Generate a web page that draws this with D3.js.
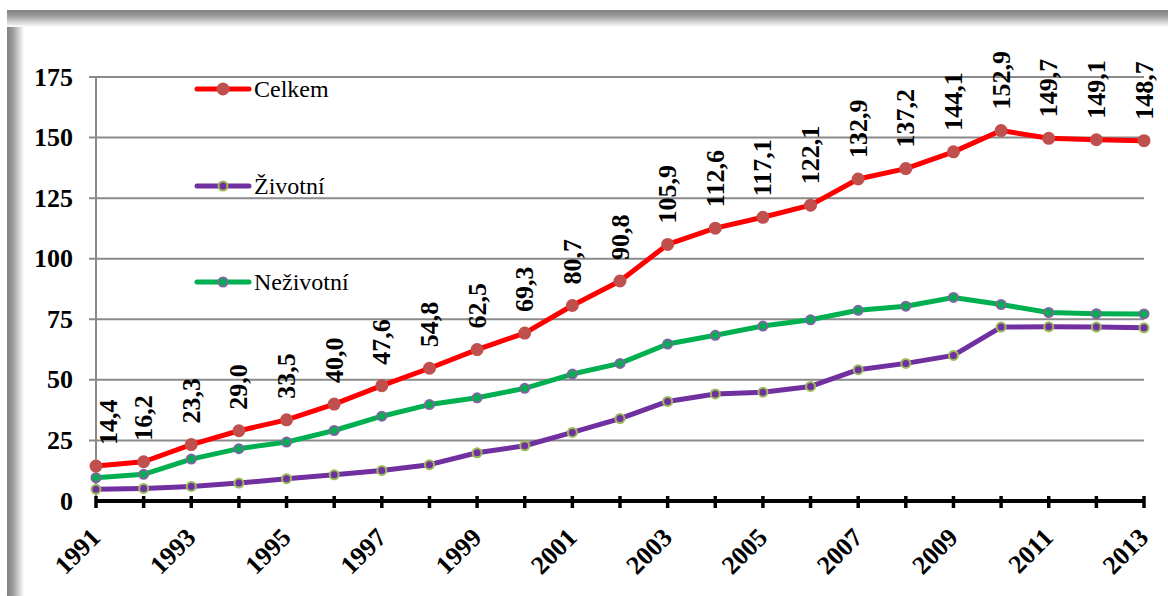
<!DOCTYPE html>
<html>
<head>
<meta charset="utf-8">
<script src="https://cdn.jsdelivr.net/npm/d3@7"></script>
<style>
  html, body { margin: 0; padding: 0; background: #ffffff; }
  svg { display: block; }
  svg text { font-family: "Liberation Serif", "Times New Roman", serif; }
</style>
</head>
<body>
<svg id="chart" width="1168" height="596"></svg>
<script>
// Years on the x axis
const years = [1991,1992,1993,1994,1995,1996,1997,1998,1999,2000,2001,2002,2003,2004,2005,2006,2007,2008,2009,2010,2011,2012,2013];
// Labelled years (every second one)
const yearLabels = [1991,1993,1995,1997,1999,2001,2003,2005,2007,2009,2011,2013];
// Y tick values
const yTicks = [0,25,50,75,100,125,150,175];

// Series values
const celkem    = [14.4,16.2,23.3,29.0,33.5,40.0,47.6,54.8,62.5,69.3,80.7,90.8,105.9,112.6,117.1,122.1,132.9,137.2,144.1,152.9,149.7,149.1,148.7];
const zivotni   = [4.8,5.2,6.0,7.4,9.2,10.8,12.6,15.0,19.9,22.8,28.3,34.0,41.1,44.2,44.9,47.3,54.2,56.8,60.1,71.8,71.9,71.8,71.5];
const nezivotni = [9.6,11.0,17.3,21.6,24.3,29.1,35.0,39.8,42.6,46.5,52.4,56.8,64.8,68.4,72.2,74.8,78.7,80.4,84.0,81.1,77.8,77.3,77.2];

const seriesNames = ["Celkem", "Životní", "Neživotní"];

const svg = d3.select("#chart");
const W = 1168, H = 596;

// Frame with soft inner shadow along the top and left edges
const defs = svg.append("defs");
const gTop = defs.append("linearGradient").attr("id", "shadeTop")
  .attr("x1", 0).attr("y1", 0).attr("x2", 0).attr("y2", 1);
gTop.append("stop").attr("offset", "0").attr("stop-color", "#808080");
gTop.append("stop").attr("offset", "0.35").attr("stop-color", "#9c9c9c");
gTop.append("stop").attr("offset", "1").attr("stop-color", "#ffffff");
const gLeft = defs.append("linearGradient").attr("id", "shadeLeft")
  .attr("x1", 0).attr("y1", 0).attr("x2", 1).attr("y2", 0);
gLeft.append("stop").attr("offset", "0").attr("stop-color", "#808080");
gLeft.append("stop").attr("offset", "0.35").attr("stop-color", "#9c9c9c");
gLeft.append("stop").attr("offset", "1").attr("stop-color", "#ffffff");

svg.append("rect").attr("x", 7).attr("y", 10).attr("width", 17).attr("height", H - 10)
  .attr("fill", "url(#shadeLeft)");
svg.append("rect").attr("x", 7).attr("y", 10).attr("width", W - 7).attr("height", 17)
  .attr("fill", "url(#shadeTop)");

// Scales
const x = d3.scalePoint().domain(years).range([96, 1144]);
const y = d3.scaleLinear().domain([0, 175]).range([501, 77]);

// Horizontal gridlines with short outer ticks
svg.append("g").selectAll("line").data(yTicks.filter(d => d > 0)).join("line")
  .attr("x1", 89).attr("x2", 1144)
  .attr("y1", d => y(d)).attr("y2", d => y(d))
  .attr("stroke", "#8a8a8a").attr("stroke-width", 2);

// Vertical axis line
svg.append("line").attr("x1", 96).attr("x2", 96).attr("y1", y(175)).attr("y2", y(0))
  .attr("stroke", "#8a8a8a").attr("stroke-width", 2);

// Y tick labels
svg.append("g").selectAll("text").data(yTicks).join("text")
  .attr("x", 73).attr("y", d => y(d))
  .attr("text-anchor", "end").attr("dominant-baseline", "central")
  .attr("font-weight", "bold").attr("font-size", 26)
  .attr("fill", "#000").text(d => d);

// X axis: thick black baseline and a tick for every year
svg.append("line").attr("x1", 96).attr("x2", 1144).attr("y1", y(0)).attr("y2", y(0))
  .attr("stroke", "#000").attr("stroke-width", 4);
svg.append("g").selectAll("line").data(years).join("line")
  .attr("x1", d => x(d)).attr("x2", d => x(d))
  .attr("y1", y(0) - 5).attr("y2", y(0) + 7)
  .attr("stroke", "#000").attr("stroke-width", 3.5);

// X tick labels, rotated
svg.append("g").selectAll("text").data(yearLabels).join("text")
  .attr("transform", d => `translate(${x(d) + 6},${y(0) + 38}) rotate(-45)`)
  .attr("text-anchor", "end")
  .attr("font-weight", "bold").attr("font-size", 26)
  .attr("fill", "#000").text(d => d);

// Series styles
const series = [
  { name: seriesNames[0], values: celkem,    line: "#ff0000", dot: "#c0504d", dotStroke: "#c0504d" },
  { name: seriesNames[1], values: zivotni,   line: "#7030a0", dot: "#7030a0", dotStroke: "#9bbb59" },
  { name: seriesNames[2], values: nezivotni, line: "#00b050", dot: "#00b050", dotStroke: "#8064a2" }
];

const lineGen = d3.line().x((d, i) => x(years[i])).y(d => y(d));

// Draw back-to-front: Životní, Neživotní, Celkem
[series[1], series[2], series[0]].forEach(s => {
  const g = svg.append("g");
  g.append("path").datum(s.values)
    .attr("d", lineGen)
    .attr("fill", "none").attr("stroke", s.line).attr("stroke-width", 5)
    .attr("stroke-linejoin", "round").attr("stroke-linecap", "round");
  g.selectAll("circle").data(s.values).join("circle")
    .attr("cx", (d, i) => x(years[i])).attr("cy", d => y(d))
    .attr("r", s.name === "Celkem" ? 5.5 : 4.5)
    .attr("fill", s.dot).attr("stroke", s.dotStroke).attr("stroke-width", 2);
});

// Value labels on the Celkem series, rotated vertical
const fmt = v => v.toFixed(1).replace(".", ",");
svg.append("g").selectAll("text").data(celkem).join("text")
  .attr("transform", (d, i) => {
    const cx = Math.max(x(years[i]), 96 + 12);
    return `translate(${cx},${y(d) - 21}) rotate(-90)`;
  })
  .attr("text-anchor", "start").attr("dominant-baseline", "central")
  .attr("font-weight", "bold").attr("font-size", 26)
  .attr("fill", "#000").text(d => fmt(d));

// Legend
const legendRows = [
  { s: series[0], y: 89 },
  { s: series[1], y: 186 },
  { s: series[2], y: 282 }
];
const lg = svg.append("g");
legendRows.forEach(r => {
  lg.append("line").attr("x1", 197).attr("x2", 249).attr("y1", r.y).attr("y2", r.y)
    .attr("stroke", r.s.line).attr("stroke-width", 5).attr("stroke-linecap", "round");
  lg.append("circle").attr("cx", 223).attr("cy", r.y)
    .attr("r", r.s.name === "Celkem" ? 5.5 : 4.5)
    .attr("fill", r.s.dot).attr("stroke", r.s.dotStroke).attr("stroke-width", 2);
  lg.append("text").attr("x", 254).attr("y", r.y).attr("dy", "0.35em")
    .attr("font-size", 24).attr("fill", "#000")
    .text(r.s.name);
});
</script>
</body>
</html>
